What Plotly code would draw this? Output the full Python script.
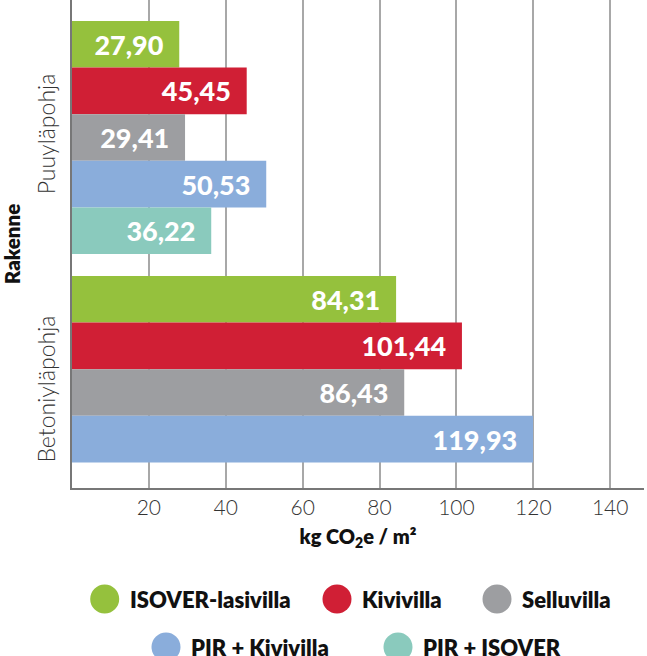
import plotly.graph_objects as go

categories = ["Puuyläpohja", "Betoniyläpohja"]
series_names = ["ISOVER-lasivilla", "Kivivilla", "Selluvilla", "PIR + Kivivilla", "PIR + ISOVER"]
series_colors = ["#95c13d", "#d01f35", "#9d9ea1", "#8aaddb", "#8acabd"]
isover_lasivilla = [27.90, 84.31]
kivivilla = [45.45, 101.44]
selluvilla = [29.41, 86.43]
pir_kivivilla = [50.53, 119.93]
pir_isover = [36.22, None]
series_values = [isover_lasivilla, kivivilla, selluvilla, pir_kivivilla, pir_isover]
x_ticks = [20, 40, 60, 80, 100, 120, 140]

W, H = 647, 656
L, R, T, B = 72, 3, 0, 168
pw, ph = W - L - R, H - T - B

BOLD = "Lato"
fig = go.Figure()
for name, color, vals in zip(series_names, series_colors, series_values):
    fig.add_trace(go.Bar(
        y=categories, x=vals, name=name, orientation="h",
        marker=dict(color=color, line=dict(width=0)),
        texttemplate="%{x:.2f}\u00a0\u00a0", textposition="inside",
        insidetextanchor="end", constraintext="none",
        textfont=dict(color="white", size=27, family=BOLD, weight=900),
        showlegend=False, cliponaxis=False,
    ))

fig.update_layout(
    width=W, height=H, margin=dict(l=L, r=R, t=T, b=B, autoexpand=False),
    paper_bgcolor="white", plot_bgcolor="white",
    barmode="group", bargap=0.086, bargroupgap=0,
    separators=", ",
    font=dict(family="Lato", color="#1a1a1a"),
    xaxis=dict(range=[0, 148.8], tickvals=x_ticks, ticktext=[str(t) for t in x_ticks],
               showgrid=True, gridcolor="#a8a8a8", gridwidth=1.5,
               showline=True, linecolor="#777777", linewidth=1.5, zeroline=False,
               ticks="", ticklen=0,
               tickfont=dict(size=21, color="#333333", family="Lato", weight=300),
               ticklabelstandoff=0, automargin=False,
               title=dict(text="kg CO<sub>2</sub>e / m²", standoff=12,
                          font=dict(size=20, color="#111111", family=BOLD, weight=800))),
    yaxis=dict(type="category", categoryarray=categories, range=[1.3745, -0.539],
               showgrid=False, showline=True, linecolor="#777777", linewidth=1.5,
               ticks="", ticklen=0, tickangle=-90, ticklabelstandoff=6, automargin=False,
               tickfont=dict(size=23, color="#333333", family="Lato", weight=300),
               title=dict(text="Rakenne", standoff=7,
                          font=dict(size=20.5, color="#111111", family=BOLD, weight=800))),
)

# legend in two centered rows
legend_rows = [
    [(0, 104.7, 599), (1, 337, 599), (2, 497, 599)],
    [(3, 166, 647), (4, 398, 647)],
]
for row in legend_rows:
    for idx, cx, cy in row:
        xp = (cx - L) / pw
        yp = (T + ph - cy) / ph
        fig.add_shape(type="circle", xref="paper", yref="paper",
                      xsizemode="pixel", ysizemode="pixel",
                      xanchor=xp, yanchor=yp, x0=-14.5, x1=14.5, y0=-14.5, y1=14.5,
                      fillcolor=series_colors[idx], line=dict(width=0))
        fig.add_annotation(xref="paper", yref="paper", x=(cx + 23 - L) / pw, y=yp,
                           xanchor="left", yanchor="middle", showarrow=False,
                           text=series_names[idx],
                           font=dict(size=22, color="#111111", family=BOLD, weight=800))

fig.write_html("out.html", config={"displayModeBar": False},
               post_script="document.body.style.margin='0';")
